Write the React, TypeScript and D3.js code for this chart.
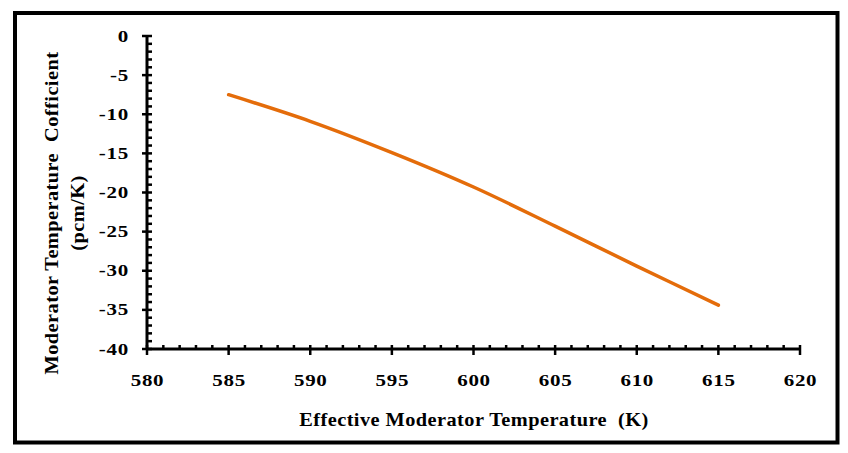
import * as d3 from "d3";

const temperatures = [585, 590, 595, 600, 605, 610, 615];
const coefficients = [-7.5, -10.9, -14.9, -19.3, -24.3, -29.4, -34.4];
const xTickValues = [580, 585, 590, 595, 600, 605, 610, 615, 620];
const yTickValues = [0, -5, -10, -15, -20, -25, -30, -35, -40];

const width = 848;
const height = 453;
const font = "'Liberation Serif', 'Times New Roman', serif";

export default function App() {
  const xScale = d3.scaleLinear().domain([580, 620]).range([147, 800]);
  const yScale = d3.scaleLinear().domain([-40, 0]).range([349, 36]);

  const points = temperatures.map((t, i) => ({ t, v: coefficients[i] }));
  const line = d3
    .line<{ t: number; v: number }>()
    .x((p) => xScale(p.t))
    .y((p) => yScale(p.v))
    .curve(d3.curveCatmullRom);

  const xMinor = d3.range(581, 620).filter((v) => v % 5 !== 0);
  const yMinor = d3.range(-39, 0).filter((v) => v % 5 !== 0);
  const x0 = xScale(580);
  const y0 = yScale(-40);

  // the original's text is stretched wider than plain Times
  const labelProps = { fontFamily: font, fontWeight: "bold", fontSize: 17.5, letterSpacing: 0.6 };
  const titleProps = { fontFamily: font, fontWeight: "bold", fontSize: 18.5, letterSpacing: 0.4 };

  return (
    <svg width={width} height={height} style={{ position: "absolute", left: 0, top: 0, background: "#fff" }}>
      <rect x={15} y={13} width={822.5} height={429.5} fill="#fff" stroke="#000" strokeWidth={4} />

      {/* y axis */}
      <line x1={x0} x2={x0} y1={yScale(0)} y2={y0} stroke="#000" strokeWidth={3} />
      {yMinor.map((v) => (
        <line key={`ym-${v}`} x1={x0} x2={x0 + 5} y1={yScale(v)} y2={yScale(v)} stroke="#000" strokeWidth={2.5} />
      ))}
      {yTickValues.map((v) => (
        <g key={`y-${v}`}>
          <line x1={x0 - 5} x2={x0 + 5} y1={yScale(v)} y2={yScale(v)} stroke="#000" strokeWidth={2.5} />
          <text transform={`translate(129, ${yScale(v) + 5.5}) scale(1.2, 1)`} textAnchor="end" {...labelProps}>
            {v}
          </text>
        </g>
      ))}

      {/* x axis */}
      <line x1={x0} x2={xScale(620)} y1={y0} y2={y0} stroke="#000" strokeWidth={3} />
      {xMinor.map((v) => (
        <line key={`xm-${v}`} x1={xScale(v)} x2={xScale(v)} y1={y0} y2={y0 - 4} stroke="#000" strokeWidth={2.5} />
      ))}
      {xTickValues.map((v) => (
        <g key={`x-${v}`}>
          <line x1={xScale(v)} x2={xScale(v)} y1={y0 - 4} y2={y0 + 6} stroke="#000" strokeWidth={2.5} />
          <text transform={`translate(${xScale(v) + 0.5}, 386) scale(1.2, 1)`} textAnchor="middle" {...labelProps}>
            {v}
          </text>
        </g>
      ))}

      <path
        d={line(points) ?? ""}
        fill="none"
        stroke="#E46C0A"
        strokeWidth={3.5}
        strokeLinecap="round"
        strokeLinejoin="round"
      />

      <text transform="translate(474, 426) scale(1.1, 1)" textAnchor="middle" {...titleProps} style={{ whiteSpace: "pre" }}>
        Effective Moderator Temperature  (K)
      </text>

      <g transform={`translate(58, 213) rotate(-90) scale(1.1, 1)`}>
        <text x={0} y={0} textAnchor="middle" {...titleProps} style={{ whiteSpace: "pre" }}>
          Moderator Temperature  Cofficient
        </text>
        <text x={0} y={26} textAnchor="middle" {...titleProps}>
          (pcm/K)
        </text>
      </g>
    </svg>
  );
}
